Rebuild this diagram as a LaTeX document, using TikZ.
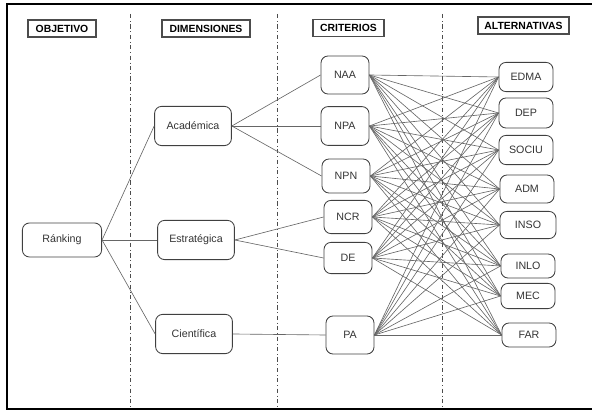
\documentclass[tikz,border=0pt]{standalone}
\usepackage{fontspec}
\setmainfont{Liberation Sans}
\usetikzlibrary{positioning}
\tikzset{
        head/.style = {draw=black!70, line width=0.9pt, inner sep=1pt,
            minimum height=0.43cm,
            font=\fontsize{7.4}{9}\selectfont\bfseries},
        box/.style = {draw=black!75, rounded corners=5pt, line width=0.6pt,
            text=black!80, font=\fontsize{7.6}{9}\selectfont},
        dim/.style = {box, minimum width=1.92cm, minimum height=0.98cm},
        crit/.style = {box, minimum width=1.2cm, minimum height=0.9cm},
        alt/.style = {box, minimum width=1.35cm, minimum height=0.7cm},
        link/.style = {draw=black!60, line width=0.45pt},
        sep/.style = {draw=black!70, dash dot, line width=0.6pt},
    }

\begin{document}
\begin{tikzpicture}[x=0.025cm, y=-0.025cm]
    \useasboundingbox (0,0) rectangle (592,411);
    \draw[line width=0.8pt] (600,4) -- (7,4) -- (7,409) -- (600,409);

    % columnas
    \draw[sep] (130,14) -- (130,409);
    \draw[sep] (277,14) -- (277,409);
    \draw[sep] (442,14) -- (442,409);

    \node[head, minimum width=1.7cm] (hobj) at (62,28.5) {OBJETIVO};
    \node[head, minimum width=2.2cm] (hdim) at (206,28.5) {DIMENSIONES};
    \node[head, minimum width=1.78cm] (hcrit) at (348.5,28) {CRITERIOS};
    \node[head, minimum width=2.28cm] (halt) at (523.5,25.5) {ALTERNATIVAS};

    \node[box, minimum width=1.98cm, minimum height=0.85cm] (rank) at (62,240) {Ránking};

    \node[dim] (acad) at (193,126) {Académica};
    \node[dim] (estr) at (196,240) {Estratégica};
    \node[dim] (cien) at (194,334) {Científica};

    \node[crit, minimum height=0.95cm] (naa) at (345,75) {NAA};
    \node[crit, minimum height=0.97cm] (npa) at (345,126) {NPA};
    \node[crit, minimum height=0.85cm] (npn) at (346,176) {NPN};
    \node[crit, minimum height=0.83cm] (ncr) at (348,217) {NCR};
    \node[crit, minimum height=0.78cm] (de) at (348,258) {DE};
    \node[crit, minimum height=0.95cm] (pa) at (350,335) {PA};

    \node[alt, minimum height=0.73cm] (edma) at (526,77) {EDMA};
    \node[alt, minimum height=0.75cm] (dep) at (526,113) {DEP};
    \node[alt, minimum height=0.73cm] (sociu) at (526,150) {SOCIU};
    \node[alt] (adm) at (527,189) {ADM};
    \node[alt, minimum width=1.4cm, minimum height=0.68cm] (inso) at (528,225) {INSO};
    \node[alt, minimum height=0.6cm] (inlo) at (528,266) {INLO};
    \node[alt, minimum height=0.63cm] (mec) at (528,296) {MEC};
    \node[alt, minimum height=0.6cm] (far) at (529,335) {FAR};

    \foreach \d in {acad,estr,cien}
        \draw[link] (rank.east) -- (\d.west);
    \foreach \c in {naa,npa,npn}
        \draw[link] (acad.east) -- (\c.west);
    \foreach \c in {ncr,de}
        \draw[link] (estr.east) -- (\c.west);
    \draw[link] (cien.east) -- (pa.west);

    \foreach \c in {naa,npa,npn,ncr,de,pa}
        \foreach \a in {edma,dep,sociu,adm,inso,inlo,mec,far}
            \draw[link] (\c.east) -- (\a.west);
\end{tikzpicture}
\end{document}
